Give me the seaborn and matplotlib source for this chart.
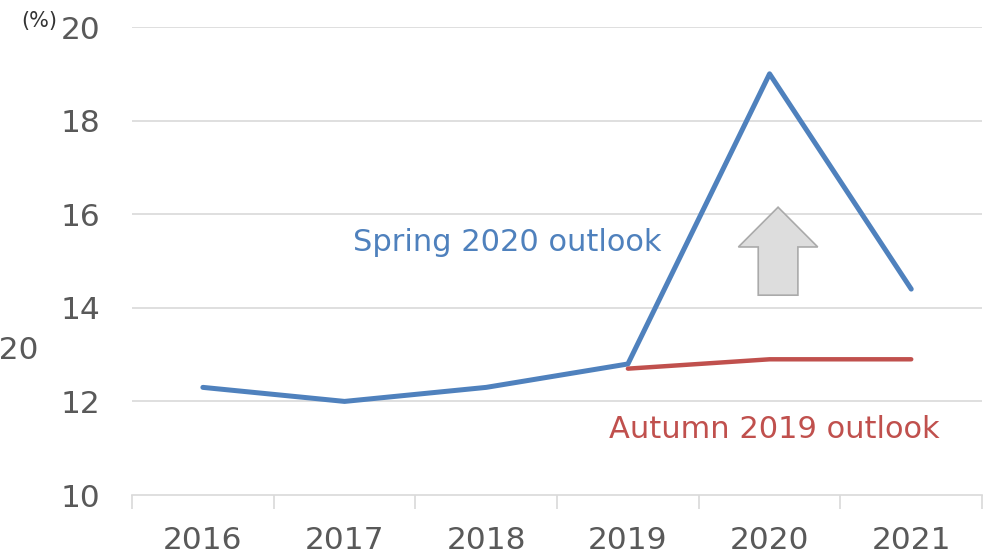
import numpy as np
import pandas as pd
import matplotlib.pyplot as plt
from matplotlib.patches import Polygon
import seaborn as sns

years = ['2016', '2017', '2018', '2019', '2020', '2021']
spring_2020 = [12.3, 12.0, 12.3, 12.8, 19.0, 14.4]
autumn_2019 = [np.nan, np.nan, np.nan, 12.7, 12.9, 12.9]

df = pd.DataFrame({'pos': range(len(years)), 'spring': spring_2020, 'autumn': autumn_2019})

sns.set_theme(style='white')
plt.rcParams['font.family'] = ['DejaVu Sans']

fig = plt.figure(figsize=(9.89, 5.56), dpi=100)
ax = fig.add_axes([0.1335, 0.1097, 0.8595, 0.8417])

blue = '#4F81BD'
red = '#C0504D'
grey_txt = '#595959'
grid_c = '#D9D9D9'

sns.lineplot(data=df, x='pos', y='spring', color=blue, lw=3.6, ax=ax)
sns.lineplot(data=df.dropna(), x='pos', y='autumn', color=red, lw=3.2, ax=ax,
             solid_capstyle='round')

ax.set_xlim(-0.5, 5.5)
ax.set_ylim(10, 20)
ax.set_yticks(range(10, 21, 2))
ax.set_xticks(range(len(years)))
ax.set_xticklabels(years)
ax.set_xticks(np.arange(-0.5, 5.6, 1), minor=True)
ax.set_xlabel('')
ax.set_ylabel('')

for y in range(12, 21, 2):
    ax.axhline(y, color=grid_c, lw=1.2, zorder=0)

for s in ['left', 'right', 'top']:
    ax.spines[s].set_visible(False)
ax.spines['bottom'].set_color(grid_c)
ax.spines['bottom'].set_linewidth(1.2)

ax.tick_params(axis='both', which='major', length=0, labelsize=22.5, labelcolor=grey_txt)
ax.tick_params(axis='x', which='major', pad=22)
ax.tick_params(axis='y', which='major', pad=23)
ax.tick_params(axis='x', which='minor', length=10, width=1.2, color=grid_c, bottom=True)

# up arrow between 2020 and 2021
arrow = Polygon([(4.06, 16.15), (4.34, 15.3), (4.20, 15.3), (4.20, 14.27),
                 (3.92, 14.27), (3.92, 15.3), (3.78, 15.3)], closed=True,
                facecolor='#DDDDDD', edgecolor='#AAAAAA', lw=1.2, zorder=3)
ax.add_patch(arrow)

ax.text(2.15, 15.4, 'Spring 2020 outlook', color=blue, fontsize=22, ha='center', va='center')
ax.text(4.03, 11.39, 'Autumn 2019 outlook', color=red, fontsize=22, ha='center', va='center')

fig.text(0.040, 0.962, '(%)', color='#333333', fontsize=15, ha='center', va='center')
# partly clipped label at the left edge, as in the original
fig.text(0.040, 0.37, '2020', color=grey_txt, fontsize=22.5, ha='right', va='center')

fig.savefig('out.png', dpi=100)
